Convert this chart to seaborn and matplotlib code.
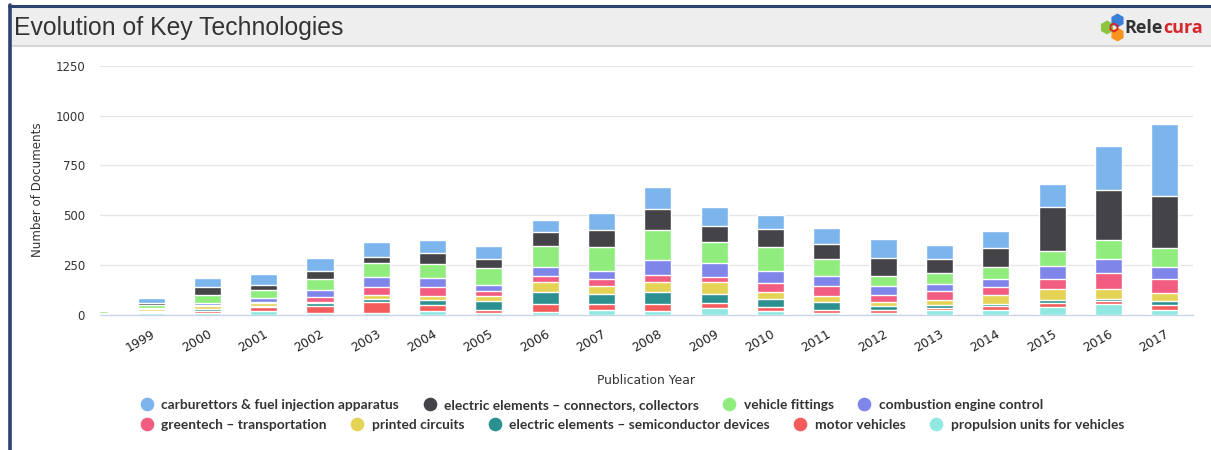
import numpy as np
import pandas as pd
import matplotlib
matplotlib.use("Agg")
import matplotlib.pyplot as plt
from matplotlib.lines import Line2D
from matplotlib.patches import Rectangle, RegularPolygon
import seaborn as sns

sns.set_style("white")
plt.rcParams["font.family"] = ["DejaVu Sans"]

# ---- data -------------------------------------------------------------
years = [str(y) for y in range(1998, 2018)]

carburettors = [7, 25, 48, 55, 66, 76, 66, 66, 56, 87, 110, 92, 70, 80, 98, 72, 82, 112, 220, 362]
connectors = [0, 10, 40, 27, 41, 29, 57, 46, 72, 83, 103, 80, 88, 78, 87, 72, 97, 221, 250, 262]
vehicle_fittings = [10, 15, 40, 40, 52, 72, 67, 82, 107, 121, 149, 109, 122, 82, 52, 56, 63, 76, 98, 92]
combustion_control = [2, 3, 12, 18, 35, 51, 50, 31, 42, 42, 76, 67, 61, 52, 46, 31, 37, 63, 68, 62]
greentech = [0, 0, 5, 8, 27, 37, 42, 27, 31, 31, 35, 25, 42, 51, 35, 47, 42, 55, 82, 68]
printed_circuits = [2, 12, 15, 13, 4, 20, 20, 24, 52, 42, 53, 63, 37, 31, 20, 25, 43, 52, 49, 40]
semiconductor = [0, 3, 6, 8, 16, 17, 26, 43, 59, 50, 60, 43, 40, 37, 20, 14, 12, 15, 12, 22]
motor_vehicles = [1, 5, 14, 20, 34, 53, 30, 15, 41, 30, 32, 28, 21, 18, 12, 12, 18, 22, 15, 25]
propulsion = [3, 10, 8, 18, 10, 11, 20, 12, 14, 25, 22, 33, 19, 9, 12, 24, 26, 39, 54, 25]

series_names = [
    "carburettors & fuel injection apparatus",
    "electric elements \u2013 connectors, collectors",
    "vehicle fittings",
    "combustion engine control",
    "greentech \u2013 transportation",
    "printed circuits",
    "electric elements \u2013 semiconductor devices",
    "motor vehicles",
    "propulsion units for vehicles",
]
series_values = [
    carburettors, connectors, vehicle_fittings, combustion_control, greentech,
    printed_circuits, semiconductor, motor_vehicles, propulsion,
]
series_colors = [
    "#7cb5ec", "#434348", "#90ed7d", "#8085e9", "#f15c80",
    "#e4d354", "#2b908f", "#f45b5b", "#91e8e1",
]

y_ticks = [0, 250, 500, 750, 1000, 1250]

# ---- figure -----------------------------------------------------------
W, H = 1211, 450
fig = plt.figure(figsize=(W / 100, H / 100), dpi=100, facecolor="white")

# pixel-space overlay for the panel frame, header and logo
over = fig.add_axes([0, 0, 1, 1], zorder=0)
over.set_xlim(0, W)
over.set_ylim(H, 0)
over.axis("off")
over.add_patch(Rectangle((10, 6), W - 10, 39, facecolor="#eeeeee", edgecolor="none"))
over.plot([10, W], [45.5, 45.5], color="#d6d6d6", lw=1.5)
over.plot([9, W], [5.5, 5.5], color="#2c4270", lw=2.2)
over.plot([9.5, 9.5], [5, H], color="#2c4270", lw=2.6)
over.text(14, 28, "Evolution of Key Technologies", fontsize=17.8, color="#333333",
          family="Liberation Sans", va="center", ha="left")

# logo mark
over.add_patch(RegularPolygon((1107, 27.5), 6, radius=7, facecolor="#8cc63f", edgecolor="none"))
over.add_patch(RegularPolygon((1117.5, 20.5), 6, radius=7, facecolor="#3a7fd5", edgecolor="none"))
over.add_patch(RegularPolygon((1117.5, 34.5), 6, radius=7, facecolor="#f7941d", edgecolor="none"))
over.add_patch(RegularPolygon((1114, 27.5), 6, radius=4, facecolor="none", edgecolor="#d7262b", lw=1.3))
over.text(1163, 28, "Rele", fontsize=13, fontweight="bold", color="#333333",
          family="Open Sans", va="center", ha="right")
over.text(1163, 28, "cura", fontsize=13, fontweight="bold", color="#d7262b",
          family="Open Sans", va="center", ha="left")

# ---- stacked bars -----------------------------------------------------
left, right, top, bottom = 100, 1193, 65.7, 315
ax = fig.add_axes([left / W, 1 - bottom / H, (right - left) / W, (bottom - top) / H], zorder=1)
ax.set_facecolor("white")

stack = np.array(series_values[::-1], dtype=float)  # bottom series first
cum = np.cumsum(stack, axis=0)
colors_bottom_up = series_colors[::-1]
for i in range(len(cum) - 1, -1, -1):
    df = pd.DataFrame({"year": years, "total": cum[i]})
    sns.barplot(data=df, x="year", y="total", color=colors_bottom_up[i], saturation=1,
                width=0.48, edgecolor="white", linewidth=1, ax=ax, zorder=3)

ax.set_xlim(0.094, 19.5)
ax.set_ylim(0, 1250)
ax.set_yticks(y_ticks)
ax.set_yticklabels([str(v) for v in y_ticks], fontsize=8.5, color="#333333")
ax.set_xticks(range(1, len(years)))
ax.set_xticklabels(years[1:], rotation=30, ha="right", rotation_mode="anchor",
                   fontsize=9, color="#222222")
ax.set_xticks(np.arange(1.5, len(years), 1.0), minor=True)
ax.tick_params(axis="x", which="major", length=0, pad=9)
ax.tick_params(axis="x", which="minor", length=10, width=1, color="#ccd6eb")
ax.tick_params(axis="y", length=0, pad=10.8)
ax.grid(axis="y", color="#e6e6e6", lw=1, zorder=0)
ax.set_axisbelow(True)
for s in ["top", "right", "left"]:
    ax.spines[s].set_visible(False)
ax.spines["bottom"].set_color("#ccd6eb")
ax.spines["bottom"].set_linewidth(1)
ax.set_xlabel("")
ax.set_ylabel("")

fig.text(38 / W, 1 - 190 / H, "Number of Documents", rotation=90, ha="center", va="center",
         fontsize=8.6, color="#333333")
fig.text(646 / W, 1 - 381 / H, "Publication Year", ha="center", va="center",
         fontsize=8.9, color="#333333")

# ---- legend (two flowing rows) ----------------------------------------
def handles_for(idx):
    return [Line2D([], [], marker="o", linestyle="", markersize=8.8,
                   markerfacecolor=series_colors[k], markeredgecolor=series_colors[k])
            for k in idx]

legend_font = {"family": "Lato", "weight": "bold", "size": 9.9}
rows = [([0, 1, 2, 3], 405), ([4, 5, 6, 7, 8], 425)]
for idx, ypix in rows:
    leg = fig.legend(handles_for(idx), [series_names[k] for k in idx], ncol=len(idx),
                     loc="center left", bbox_to_anchor=(140 / W, 1 - ypix / H),
                     frameon=False, prop=legend_font, handlelength=1.0, handletextpad=0.55,
                     columnspacing=1.72, borderpad=0, borderaxespad=0)
    for t in leg.get_texts():
        t.set_color("#333333")

fig.savefig("out.png", dpi=100, facecolor="white")
